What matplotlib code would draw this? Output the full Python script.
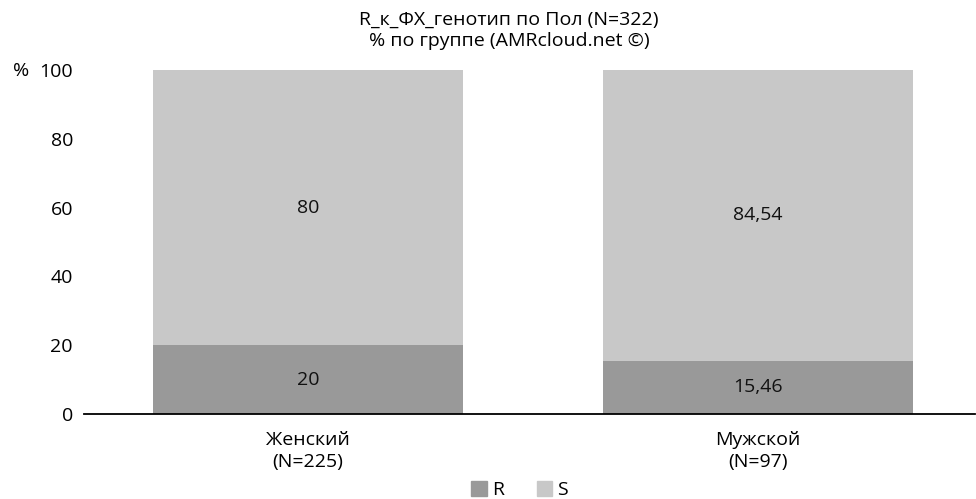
import matplotlib
matplotlib.use("Agg")
import matplotlib.pyplot as plt
from matplotlib.patches import Patch

plt.rcParams['font.family'] = ['Open Sans', 'DejaVu Sans']

categories = ["Женский\n(N=225)", "Мужской\n(N=97)"]
r_values = [20, 15.46]
s_values = [80, 84.54]
r_labels = ["20", "15,46"]
s_labels = ["80", "84,54"]
yticks = [0, 20, 40, 60, 80, 100]

col_r = "#999999"
col_s = "#c8c8c8"
fs = 14

fig = plt.figure(figsize=(9.76, 4.99), dpi=100)
ax = fig.add_axes([84 / 976, 1 - 414 / 499, (975 - 84) / 976, (414 - 70) / 499])

x = list(range(len(categories)))
width = 0.69
ax.bar(x, r_values, width=width, color=col_r, zorder=2)
ax.bar(x, s_values, width=width, bottom=r_values, color=col_s, zorder=2)

for xi, rv, sv, rl, sl in zip(x, r_values, s_values, r_labels, s_labels):
    ax.text(xi, rv / 2, rl, ha="center", va="center", fontsize=fs, color="#111111")
    ax.text(xi, rv + sv / 2, sl, ha="center", va="center", fontsize=fs, color="#111111")

ax.set_xlim(-0.498, 1.482)
ax.set_ylim(0, 100)
ax.set_yticks(yticks)
ax.set_yticklabels([str(t) for t in yticks], fontsize=fs)
ax.set_xticks(x)
ax.set_xticklabels(categories, fontsize=fs, linespacing=1.3)
ax.tick_params(axis="y", length=0, pad=8)
ax.tick_params(axis="x", length=0, pad=12)

for side in ["top", "right", "left"]:
    ax.spines[side].set_visible(False)
ax.spines["bottom"].set_linewidth(1.3)
ax.spines["bottom"].set_color("#000000")

fig.text(13 / 976, 1 - 71 / 499, "%", ha="left", va="center", fontsize=fs)

title_x = 509 / 976
fig.text(title_x, 1 - 20 / 499, "R_к_ФХ_генотип по Пол (N=322)", ha="center", va="center", fontsize=fs)
fig.text(title_x, 1 - 41 / 499, "% по группе (AMRcloud.net ©)", ha="center", va="center", fontsize=fs)

handles = [Patch(color=col_r, label="R"), Patch(color=col_s, label="S")]
fig.legend(handles=handles, loc="center", bbox_to_anchor=(519.5 / 976, 1 - 490 / 499), ncol=2,
           frameon=False, fontsize=fs, handlelength=0.8, handleheight=0.8,
           handletextpad=0.25, columnspacing=1.7, borderpad=0)

fig.savefig("out.png", dpi=100)
